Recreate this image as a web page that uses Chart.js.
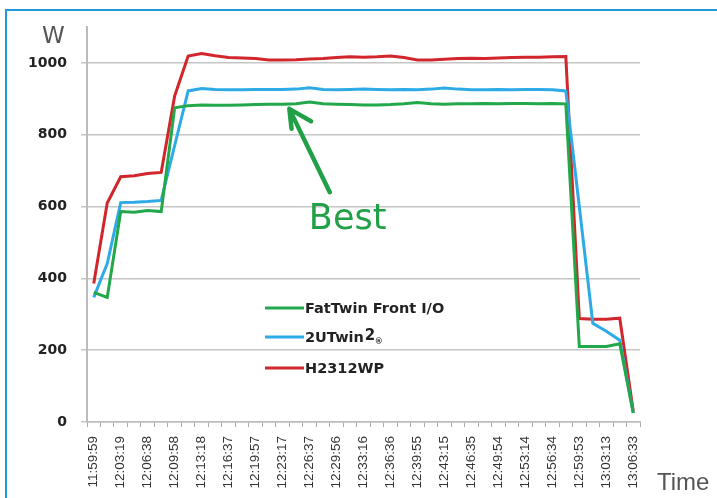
<!DOCTYPE html>
<html>
<head>
<meta charset="utf-8">
<title>Power draw</title>
<script src="https://cdn.jsdelivr.net/npm/chart.js@4.4.1/dist/chart.umd.min.js"></script>
<style>
  html, body { margin: 0; padding: 0; background: #fff; }
  #wrap { width: 717px; height: 498px; position: relative; }
</style>
</head>
<body>
<div id="wrap"><canvas id="powerChart" width="717" height="498"></canvas></div>
<script>
// Sample times (one point every ~100 s), labels shown on every second one
const times = [
    '11:59:59', '12:01:39', '12:03:19', '12:04:58', '12:06:38', '12:08:18', '12:09:58',
    '12:11:38', '12:13:18', '12:14:57', '12:16:37', '12:18:17', '12:19:57', '12:21:37',
    '12:23:17', '12:24:57', '12:26:37', '12:28:16', '12:29:56', '12:31:36', '12:33:16',
    '12:34:56', '12:36:36', '12:38:15', '12:39:55', '12:41:35', '12:43:15', '12:44:55',
    '12:46:35', '12:48:14', '12:49:54', '12:51:34', '12:53:14', '12:54:54', '12:56:34',
    '12:58:13', '12:59:53', '13:01:33', '13:03:13', '13:04:53', '13:06:33'
];

const fatTwin = [
    361, 347, 586, 584, 589, 586, 875, 881, 883, 882, 882, 883, 884, 885,
    885, 886, 891, 886, 885, 884, 883, 883, 884, 886, 890, 886, 885, 886,
    886, 887, 886, 887, 887, 886, 887, 886, 210, 210, 210, 218, 25
];

const uTwin = [
    347, 441, 611, 612, 614, 617, 770, 922, 929, 926, 925, 925, 926, 926,
    926, 927, 931, 926, 925, 926, 927, 926, 925, 926, 925, 927, 930, 927,
    925, 925, 926, 925, 926, 926, 925, 922, 600, 275, 253, 228, 25
];

const h2312 = [
    386, 610, 683, 686, 692, 695, 908, 1019, 1026, 1020, 1015, 1014, 1012, 1008,
    1008, 1009, 1011, 1012, 1015, 1017, 1016, 1017, 1019, 1015, 1008, 1008, 1010, 1012,
    1013, 1012, 1014, 1015, 1016, 1016, 1017, 1018, 288, 286, 286, 289, 30
];

const seriesNames = ['FatTwin Front I/O', '2UTwin', 'H2312WP'];
const seriesColors = ['#22a84a', '#2eaae6', '#d0262c'];

// arrow + "Best" note, in data units (category index, watts)
const bestTip = [14.5, 872];
const bestTail = [17.5, 640];
const bestText = [15.95, 538];

const decorPlugin = {
    id: 'decor',
    afterDraw(chart) {
        const ctx = chart.ctx;
        const x = chart.scales.x;
        const y = chart.scales.y;

        ctx.save();

        // blue frame
        ctx.strokeStyle = '#1f97dd';
        ctx.lineWidth = 2;
        ctx.beginPath();
        ctx.moveTo(6, 498);
        ctx.lineTo(6, 10);
        ctx.lineTo(717, 10);
        ctx.stroke();

        // axis titles
        ctx.fillStyle = '#555';
        ctx.textBaseline = 'alphabetic';
        ctx.textAlign = 'left';
        ctx.font = '23px "DejaVu Sans"';
        ctx.fillText('W', 42, 43);
        ctx.font = '24px "Liberation Sans"';
        ctx.fillText('Time', 657, 490);

        // legend inside the plot
        const rows = [308, 337, 368];
        ctx.font = 'bold 14.5px "DejaVu Sans"';
        ctx.textBaseline = 'middle';
        seriesNames.forEach((name, i) => {
            ctx.strokeStyle = seriesColors[i];
            ctx.lineWidth = 3;
            ctx.beginPath();
            ctx.moveTo(265, rows[i]);
            ctx.lineTo(304, rows[i]);
            ctx.stroke();
            ctx.fillStyle = '#222';
            ctx.fillText(name, 305, rows[i] + 1);
            if (i === 1) {
                // superscript 2 and small registered mark
                const w = ctx.measureText(name).width;
                ctx.font = 'bold 15px "DejaVu Sans"';
                ctx.fillText('2', 305 + w + 1, rows[i] - 1);
                ctx.font = 'bold 8px "DejaVu Sans"';
                ctx.fillText('®', 305 + w + 11, rows[i] + 5);
                ctx.font = 'bold 14.5px "DejaVu Sans"';
            }
        });

        // "Best" arrow
        const tx = x.getPixelForValue(bestTip[0]);
        const ty = y.getPixelForValue(bestTip[1]);
        const bx = x.getPixelForValue(bestTail[0]);
        const by = y.getPixelForValue(bestTail[1]);
        const ang = Math.atan2(by - ty, bx - tx);
        ctx.strokeStyle = '#22a048';
        ctx.lineWidth = 4.5;
        ctx.lineCap = 'round';
        ctx.lineJoin = 'round';
        ctx.beginPath();
        ctx.moveTo(bx, by);
        ctx.lineTo(tx, ty);
        ctx.moveTo(tx + 25 * Math.cos(ang - 0.6), ty + 25 * Math.sin(ang - 0.6));
        ctx.lineTo(tx, ty);
        ctx.lineTo(tx + 20 * Math.cos(ang + 0.34), ty + 20 * Math.sin(ang + 0.34));
        ctx.stroke();

        ctx.fillStyle = '#22a048';
        ctx.font = '35px "DejaVu Sans"';
        ctx.textBaseline = 'alphabetic';
        ctx.fillText('Best', x.getPixelForValue(bestText[0]), y.getPixelForValue(bestText[1]));

        ctx.restore();
    }
};

function makeSet(label, data, color) {
    return {
        label: label,
        data: data,
        borderColor: color,
        backgroundColor: color,
        borderWidth: 3,
        pointRadius: 0,
        tension: 0,
        fill: false
    };
}

const ctx = document.getElementById('powerChart').getContext('2d');
new Chart(ctx, {
    type: 'line',
    data: {
        labels: times,
        datasets: [
            makeSet(seriesNames[0], fatTwin, seriesColors[0]),
            makeSet(seriesNames[1], uTwin, seriesColors[1]),
            makeSet(seriesNames[2], h2312, seriesColors[2])
        ]
    },
    options: {
        responsive: false,
        animation: false,
        devicePixelRatio: 1,
        layout: { padding: { top: 27, right: 77, left: 0, bottom: 0 } },
        plugins: {
            legend: { display: false },
            tooltip: { enabled: false }
        },
        scales: {
            x: {
                offset: true,
                grid: {
                    offset: true,
                    drawOnChartArea: false,
                    drawTicks: true,
                    tickLength: 5,
                    color: '#aaa'
                },
                border: { color: '#bbb', width: 1.5 },
                ticks: {
                    autoSkip: false,
                    minRotation: 90,
                    maxRotation: 90,
                    padding: 9,
                    color: '#333',
                    font: { family: '"Liberation Sans"', size: 13.5 },
                    callback: (val, i) => (i % 2 === 0 ? times[i] : '')
                },
                afterFit: scale => { scale.height = 76; }
            },
            y: {
                min: 0,
                max: 1100,
                grid: {
                    color: '#c6c6c6',
                    lineWidth: 1.5,
                    tickLength: 6
                },
                border: { color: '#bbb', width: 2 },
                ticks: {
                    stepSize: 200,
                    includeBounds: false,
                    padding: 14,
                    color: '#222',
                    font: { family: '"DejaVu Sans"', size: 14, weight: 'bold' },
                    callback: v => String(v)
                },
                afterFit: scale => { scale.width = 87; }
            }
        }
    },
    plugins: [decorPlugin]
});
</script>
</body>
</html>
